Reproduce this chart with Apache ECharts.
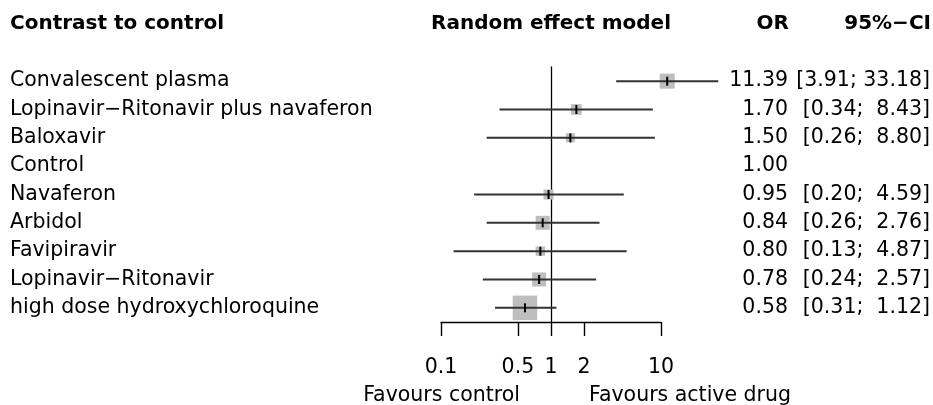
<!DOCTYPE html>
<html>
<head>
<meta charset="utf-8">
<script src="https://cdn.jsdelivr.net/npm/echarts@6/dist/echarts.min.js"></script>
<style>
  html, body { margin: 0; padding: 0; background: #fff; }
  #forest { width: 933px; height: 405px; }
</style>
</head>
<body>
<div id="forest"></div>
<script>
  // treatments, top to bottom
  var treatments = ['Convalescent plasma', 'Lopinavir\u2212Ritonavir plus navaferon', 'Baloxavir', 'Control',
    'Navaferon', 'Arbidol', 'Favipiravir', 'Lopinavir\u2212Ritonavir', 'high dose hydroxychloroquine']
  var oddsRatio = [11.39, 1.70, 1.50, 1.00, 0.95, 0.84, 0.80, 0.78, 0.58]
  var ciLower = [3.91, 0.34, 0.26, null, 0.20, 0.26, 0.13, 0.24, 0.31]
  var ciUpper = [33.18, 8.43, 8.80, null, 4.59, 2.76, 4.87, 2.57, 1.12]
  // random effect weights (%)
  var weights = [14.1, 7.1, 5.1, 0, 6.3, 12.3, 5.4, 12.3, 37.5]
  var tickValues = [0.1, 0.5, 1, 2, 10]

  var FONT = 'DejaVu Sans'

  function pad(s, n) {
    while (s.length < n) s = ' ' + s
    return s
  }
  var orText = oddsRatio.map(function (v) { return v.toFixed(2) })
  var ciText = ciLower.map(function (lo, i) {
    if (lo == null) return ''
    return '[' + lo.toFixed(2) + '; ' + pad(ciUpper[i].toFixed(2), 5) + ']'
  })
  var logTicks = tickValues.map(function (v) { return Math.log10(v) })

  var rows = treatments.map(function (t, i) {
    return [
      Math.log10(oddsRatio[i]), i,
      ciLower[i] == null ? null : Math.log10(ciLower[i]),
      ciUpper[i] == null ? null : Math.log10(ciUpper[i]),
      weights[i]
    ]
  })

  function renderRow(params, api) {
    var row = api.value(1)
    var p = api.coord([api.value(0), row])
    var lo = api.value(2), hi = api.value(3), w = api.value(4)
    var kids = []
    if (w > 0) {
      var s = Math.sqrt(w) * 4
      kids.push({ type: 'rect', shape: { x: p[0] - s / 2, y: p[1] - s / 2, width: s, height: s },
        style: { fill: '#bebebe' } })
    }
    if (lo != null && hi != null && !isNaN(lo) && !isNaN(hi)) {
      var a = api.coord([lo, row]), b = api.coord([hi, row])
      kids.push({ type: 'line', shape: { x1: a[0], y1: a[1], x2: b[0], y2: b[1] },
        style: { stroke: '#333', lineWidth: 2 } })
    }
    if (w > 0) {
      kids.push({ type: 'line', shape: { x1: p[0], y1: p[1] - 4.5, x2: p[0], y2: p[1] + 4.5 },
        style: { stroke: '#000', lineWidth: 2 } })
    }
    return { type: 'group', children: kids }
  }

  var rowLabel = { interval: 0, fontSize: 20.5, color: '#000', fontFamily: FONT, padding: [3, 0, 0, 0] }

  var chart = echarts.init(document.getElementById('forest'))
  chart.setOption({
    animation: false,
    textStyle: { fontFamily: FONT },
    grid: { left: 441, right: 271, top: 67, bottom: 83 },
    xAxis: {
      type: 'value',
      min: -1,
      max: 1,
      splitLine: { show: false },
      axisLine: { show: true, onZero: false, lineStyle: { color: '#000', width: 1.4 } },
      axisTick: { show: true, length: 14, customValues: logTicks, lineStyle: { color: '#000', width: 1.4 } },
      axisLabel: {
        customValues: logTicks,
        margin: 35,
        fontSize: 20.5,
        color: '#000',
        fontFamily: FONT,
        formatter: function (v) { return String(+Math.pow(10, v).toPrecision(2)) }
      }
    },
    yAxis: [
      {
        type: 'category',
        inverse: true,
        data: treatments,
        axisLine: { show: true, onZero: true, lineStyle: { color: '#000', width: 1.3 } },
        axisTick: { show: false },
        axisLabel: { show: false }
      },
      {
        type: 'category',
        inverse: true,
        position: 'left',
        data: treatments,
        axisLine: { show: false, onZero: false },
        axisTick: { show: false },
        axisLabel: Object.assign({ align: 'left', margin: 431 }, rowLabel)
      },
      {
        type: 'category',
        inverse: true,
        position: 'right',
        data: orText,
        axisLine: { show: false, onZero: false },
        axisTick: { show: false },
        axisLabel: Object.assign({ align: 'right', margin: 127 }, rowLabel)
      },
      {
        type: 'category',
        inverse: true,
        position: 'right',
        data: ciText,
        axisLine: { show: false, onZero: false },
        axisTick: { show: false },
        axisLabel: Object.assign({ align: 'right', margin: 269 }, rowLabel)
      }
    ],
    graphic: [
      { type: 'text', x: 10, y: 24, style: { text: 'Contrast to control', font: 'bold 20px ' + FONT, fill: '#000', textAlign: 'left', textVerticalAlign: 'middle' } },
      { type: 'text', x: 551, y: 24, style: { text: 'Random effect model', font: 'bold 20px ' + FONT, fill: '#000', textAlign: 'center', textVerticalAlign: 'middle' } },
      { type: 'text', x: 789, y: 24, style: { text: 'OR', font: 'bold 20px ' + FONT, fill: '#000', textAlign: 'right', textVerticalAlign: 'middle' } },
      { type: 'text', x: 931, y: 24, style: { text: '95%\u2212CI', font: 'bold 20px ' + FONT, fill: '#000', textAlign: 'right', textVerticalAlign: 'middle' } },
      { type: 'text', x: 520, y: 396, style: { text: 'Favours control', font: '20.5px ' + FONT, fill: '#000', textAlign: 'right', textVerticalAlign: 'middle' } },
      { type: 'text', x: 589, y: 396, style: { text: 'Favours active drug', font: '20.5px ' + FONT, fill: '#000', textAlign: 'left', textVerticalAlign: 'middle' } }
    ],
    series: [
      {
        type: 'custom',
        yAxisIndex: 0,
        clip: false,
        silent: true,
        renderItem: renderRow,
        encode: { x: 0, y: 1 },
        data: rows
      }
    ]
  })
</script>
</body>
</html>
